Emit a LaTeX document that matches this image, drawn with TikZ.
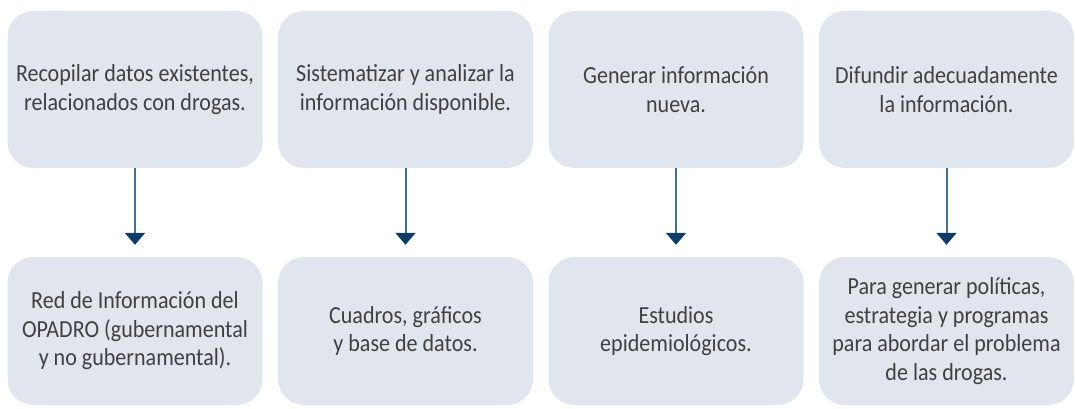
\documentclass[tikz,border=0pt]{standalone}
\usepackage{fontspec}
\setmainfont{Carlito}[FakeStretch=0.9]
\usetikzlibrary{arrows.meta}
\definecolor{cajagris}{HTML}{E1E5EE}
\definecolor{texto}{HTML}{404040}
\definecolor{linea}{HTML}{41709A}
\definecolor{punta}{HTML}{0F3C66}
\tikzset{
  caja/.style = {fill=cajagris, rounded corners=26pt, minimum width=255pt,
    align=center, text=texto, inner sep=0pt,
    font=\fontsize{24.5}{28.5}\selectfont},
  arriba/.style = {caja, minimum height=157pt},
  abajo/.style = {caja, minimum height=148pt},
  flecha/.style = {draw=linea, line width=2pt,
    -{Triangle[width=20pt,length=12pt,color=punta]}, shorten >=12pt}
}
\begin{document}
\begin{tikzpicture}[x=1pt, y=-1pt]
  \useasboundingbox (0,0) rectangle (1075,409);
  % fila de arriba
  \node [arriba] (paso1) at (135,89.5) {Recopilar datos existentes,\\relacionados con drogas.};
  \node [arriba] (paso2) at (405.5,89.5) {Sistematizar y analizar la\\informaci\'on disponible.};
  \node [arriba] (paso3) at (676,89.5) {Generar informaci\'on\\nueva.};
  \node [arriba] (paso4) at (946.5,89.5) {Difundir adecuadamente\\la informaci\'on.};
  % fila de abajo
  \node [abajo] (res1) at (135,331) {Red de Informaci\'on del\\OPADRO (gubernamental\\y no gubernamental).};
  \node [abajo] (res2) at (405.5,331) {Cuadros, gr\'aficos\\y base de datos.};
  \node [abajo] (res3) at (676,331) {Estudios\\epidemiol\'ogicos.};
  \node [abajo] (res4) at (946.5,331) {Para generar pol\'iticas,\\estrategia y programas\\para abordar el problema\\de las drogas.};
  \draw [flecha] (paso1) -- (res1);
  \draw [flecha] (paso2) -- (res2);
  \draw [flecha] (paso3) -- (res3);
  \draw [flecha] (paso4) -- (res4);
\end{tikzpicture}
\end{document}
